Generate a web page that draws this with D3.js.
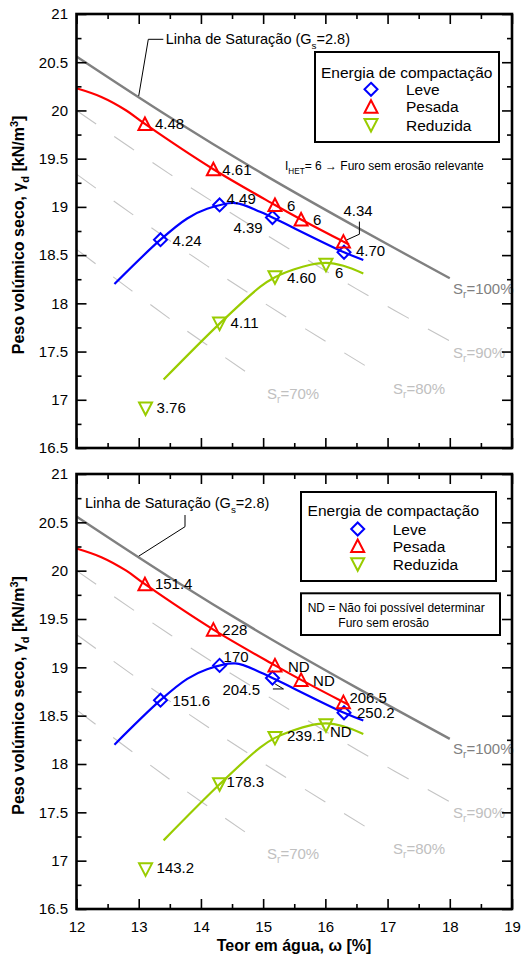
<!DOCTYPE html>
<html>
<head>
<meta charset="utf-8">
<script src="https://cdn.jsdelivr.net/npm/d3@7"></script>
<style>
  body { margin: 0; background: #fff; }
  svg { display: block; font-family: "Liberation Sans", Arial, sans-serif; }
</style>
</head>
<body>
<svg id="chart" width="522" height="955"></svg>
<script>
// ---- data ----
const leveW = [13.35, 14.30, 15.15, 16.30];
const leveG = [18.66, 19.02, 18.89, 18.53];
const pesadaW = [13.10, 14.20, 15.19, 15.61, 16.29];
const pesadaG = [19.86, 19.39, 19.02, 18.87, 18.64];
const reduzW = [13.11, 14.30, 15.19, 16.01];
const reduzG = [16.91, 17.79, 18.27, 18.40];

// points
const leveCurve = [[12.61, 18.20], [13.35, 18.66], [13.78, 18.88], [14.10, 18.98], [14.55, 19.04], [14.95, 18.95], [15.15, 18.89], [16.30, 18.53], [16.61, 18.45]];
const pesadaCurve = [[12.0, 20.23], [12.4, 20.14], [12.8, 20.0], [13.10, 19.86], [14.20, 19.39], [15.19, 19.02], [15.61, 18.87], [16.29, 18.64], [16.38, 18.61]];
const reduzCurve = [[13.40, 17.21], [14.30, 17.79], [14.95, 18.17], [15.19, 18.27], [15.49, 18.35], [15.76, 18.40], [16.01, 18.42], [16.29, 18.39], [16.61, 18.31]];

// saturation lines (Gs = 2.8)
const sr100 = [[12, 20.56], [13.5, 19.93], [15, 19.34], [16.5, 18.79], [18, 18.26]];
const sr90 = [[12, 20.00], [13.5, 19.34], [15, 18.73], [16.5, 18.15], [18, 17.61]];
const sr80 = [[12, 19.34], [13.5, 18.65], [15, 18.01], [16.65, 17.35]];
const sr70 = [[12, 18.56], [13.5, 17.84], [14.95, 17.19]];

// label texts
const iLeve = ["4.24", "4.49", "4.39", "4.70"];
const iPesada = ["4.48", "4.61", "6", "6", "4.34"];
const iReduz = ["3.76", "4.11", "4.60", "6"];
const tLeve = ["151.6", "170", "204.5", "250.2"];
const tPesada = ["151.4", "228", "ND", "ND", "206.5"];
const tReduz = ["143.2", "178.3", "239.1", "ND"];

const xTicks = [12, 13, 14, 15, 16, 17, 18, 19];
const yTicks = [16.5, 17, 17.5, 18, 18.5, 19, 19.5, 20, 20.5, 21];

const serieNames = ["Leve", "Pesada", "Reduzida"];
const colors = { leve: "#0000ff", pesada: "#ff0000", reduz: "#99cc00" };

// ---- layout ----
const svg = d3.select("#chart");
const left = 76.5, right = 512;
const x = d3.scaleLinear().domain([12, 19]).range([left, right]);

const shapes = {
  leve: "M0,-6.5L6.5,0L0,6.5L-6.5,0Z",
  pesada: "M0,-6.5L6.5,6L-6.5,6Z",
  reduz: "M-6.5,-6L6.5,-6L0,6.5Z"
};

function rich(sel, parts, fs) {
  let shift = 0;
  parts.forEach(([t, k]) => {
    const target = k === "sub" ? fs * 0.3 : k === "sup" ? -fs * 0.4 : 0;
    sel.append("tspan")
      .attr("dy", target - shift)
      .style("font-size", k ? (fs * 0.68) + "px" : null)
      .text(t);
    shift = target;
  });
  return sel;
}

const panels = [
  {
    top: 14, bottom: 448, xLabels: false,
    labels: { leve: iLeve, pesada: iPesada, reduz: iReduz },
    off: {
      leve: [[12, 1], [7, -6], [-39, 10], [12, -2]],
      pesada: [[10, 0], [9, 0], [12, 1], [12, 0], [0, -31]],
      reduz: [[11, -1], [11, -1], [12, 0], [9, 8]]
    },
    leader: { serie: "pesada", i: 4, pts: [[16, -20], [16, -7.4], [3.4, -1.7]] },
    satText: [165.7, 25.3], satLeader: [[163.3, 25.3], [148.3, 25.3]],
    legend: { x0: 315, y0: 38, x1: 499, y1: 128, cx: 406.7, mx: 371, tx: 406, rows: [58, 75.3, 92.7, 111] },
    note: "ihet"
  },
  {
    top: 474, bottom: 909, xLabels: true,
    labels: { leve: tLeve, pesada: tPesada, reduz: tReduz },
    off: {
      leve: [[12, 0], [4, -9], [-50, 12], [13, 0]],
      pesada: [[10, -1], [9, 0], [13, 1], [12, 1], [6, -5]],
      reduz: [[11, -2], [7, -3], [12, -2], [4, 6]]
    },
    leader: { serie: "leve", i: 2, pts: [[0.4, 11], [11, 11], [2.7, 6]] },
    satText: [85, 29.3], satLeader: [[185, 41], [185, 52.7]],
    legend: { x0: 301, y0: 18, x1: 496, y1: 107, cx: 393.3, mx: 357.7, tx: 392.7, rows: [36.7, 55, 72, 90.3] },
    note: "nd"
  }
];

panels.forEach(p => {
  const y = d3.scaleLinear().domain([16.5, 21]).range([p.bottom, p.top]);
  const g = svg.append("g");
  const line = d3.line().x(d => x(d[0])).y(d => y(d[1])).curve(d3.curveCatmullRom.alpha(0.5));

  // partial saturation lines
  [sr90, sr80, sr70].forEach(s => {
    g.append("path").attr("d", line(s))
      .attr("fill", "none").attr("stroke", "#c4c4c4").attr("stroke-width", 1.1)
      .attr("stroke-dasharray", "24,22");
  });
  g.append("path").attr("d", line(sr100))
    .attr("fill", "none").attr("stroke", "#808080").attr("stroke-width", 2.4);

  // Sr labels
  const srLab = [["100%", 453, 274, "#808080"], ["90%", 453, 338, "#c0c0c0"], ["80%", 393, 374, "#c0c0c0"], ["70%", 267, 379, "#c0c0c0"]];
  srLab.forEach(([t, lx, ly, c]) => {
    const tx = g.append("text").attr("x", lx).attr("y", p.top + ly + 5.5)
      .attr("fill", c).style("font-size", "15px");
    rich(tx, [["S"], ["r", "sub"], ["=" + t]], 15);
  });

  // saturation label + leader
  const st = g.append("text").attr("x", p.satText[0]).attr("y", p.top + p.satText[1] + 5)
    .style("font-size", "14.5px").attr("fill", "#000");
  rich(st, [["Linha de Saturação (G"], ["s", "sub"], ["=2.8)"]], 14.5);
  const lp = p.satLeader.map(d => [d[0], p.top + d[1]]);
  lp.push([x(13), y(20.15)]);
  g.append("path").attr("d", d3.line()(lp)).attr("fill", "none").attr("stroke", "#000").attr("stroke-width", 1);

  // fitted curves
  [["leve", leveCurve], ["pesada", pesadaCurve], ["reduz", reduzCurve]].forEach(([k, c]) => {
    g.append("path").attr("d", line(c)).attr("fill", "none")
      .attr("stroke", colors[k]).attr("stroke-width", 2.2);
  });

  // markers + labels
  const series = { leve: [leveW, leveG], pesada: [pesadaW, pesadaG], reduz: [reduzW, reduzG] };
  Object.keys(series).forEach(k => {
    const [ws, gs] = series[k];
    const pts = ws.map((w, i) => ({ w, g: gs[i], i }));
    g.selectAll(null).data(pts).enter().append("path")
      .attr("d", shapes[k])
      .attr("transform", d => `translate(${x(d.w)},${y(d.g)})`)
      .attr("fill", "none").attr("stroke", colors[k]).attr("stroke-width", 2);
    g.selectAll(null).data(pts).enter().append("text")
      .attr("x", d => x(d.w) + p.off[k][d.i][0])
      .attr("y", d => y(d.g) + p.off[k][d.i][1])
      .attr("dy", "0.36em")
      .style("font-size", "15px").attr("fill", "#000")
      .text(d => p.labels[k][d.i]);
  });

  // annotation leader
  {
    const L = p.leader, [ws, gs] = series[L.serie];
    const mx = x(ws[L.i]), my = y(gs[L.i]);
    g.append("path").attr("d", d3.line()(L.pts.map(d => [mx + d[0], my + d[1]])))
      .attr("fill", "none").attr("stroke", "#000").attr("stroke-width", 1);
  }

  // frame + ticks
  g.append("rect").attr("x", left).attr("y", p.top)
    .attr("width", right - left).attr("height", p.bottom - p.top)
    .attr("fill", "none").attr("stroke", "#000").attr("stroke-width", 2.6);

  const xMinor = d3.range(12.5, 19, 1);
  const yMinor = d3.range(16.75, 21, 0.5);
  const fmt = d3.format("");

  const ax = [
    d3.axisBottom(x).tickValues(xTicks).tickSize(-10).tickPadding(12).tickFormat(p.xLabels ? fmt : ""),
    d3.axisBottom(x).tickValues(xMinor).tickSize(-5).tickFormat("")
  ];
  ax.forEach(a => g.append("g").attr("transform", `translate(0,${p.bottom})`).call(a));
  [d3.axisTop(x).tickValues(xTicks).tickSize(-10).tickFormat(""),
   d3.axisTop(x).tickValues(xMinor).tickSize(-5).tickFormat("")]
    .forEach(a => g.append("g").attr("transform", `translate(0,${p.top})`).call(a));
  [d3.axisLeft(y).tickValues(yTicks).tickSize(-10).tickPadding(8.5).tickFormat(fmt),
   d3.axisLeft(y).tickValues(yMinor).tickSize(-5).tickFormat("")]
    .forEach(a => g.append("g").attr("transform", `translate(${left},0)`).call(a));
  [d3.axisRight(y).tickValues(yTicks).tickSize(-10).tickFormat(""),
   d3.axisRight(y).tickValues(yMinor).tickSize(-5).tickFormat("")]
    .forEach(a => g.append("g").attr("transform", `translate(${right},0)`).call(a));

  g.selectAll(".domain").remove();
  g.selectAll(".tick line").attr("stroke", "#000").attr("stroke-width", 1.6);
  g.selectAll(".tick text").style("font-size", "15px").attr("fill", "#000")
    .style("font-family", "'Liberation Sans', Arial, sans-serif");

  // y title
  const yt = g.append("text")
    .attr("transform", `translate(24,${(p.top + p.bottom) / 2 + 4}) rotate(-90)`)
    .attr("text-anchor", "middle").style("font-size", "16px").style("font-weight", "bold");
  rich(yt, [["Peso volúmico seco, γ"], ["d", "sub"], [" [kN/m"], ["3", "sup"], ["]"]], 16);

  // legend
  const lg = p.legend;
  g.append("rect").attr("x", lg.x0).attr("y", p.top + lg.y0)
    .attr("width", lg.x1 - lg.x0).attr("height", lg.y1 - lg.y0)
    .attr("fill", "#fff").attr("stroke", "#000").attr("stroke-width", 2);
  g.append("text").attr("x", lg.cx).attr("y", p.top + lg.rows[0]).attr("dy", "0.36em")
    .attr("text-anchor", "middle").style("font-size", "15.5px").text("Energia de compactação");
  ["leve", "pesada", "reduz"].forEach((k, i) => {
    const ry = p.top + lg.rows[i + 1];
    g.append("path").attr("d", shapes[k]).attr("transform", `translate(${lg.mx},${ry})`)
      .attr("fill", "none").attr("stroke", colors[k]).attr("stroke-width", 2);
    g.append("text").attr("x", lg.tx).attr("y", ry).attr("dy", "0.36em")
      .style("font-size", "15.5px").text(serieNames[i]);
  });

  // notes
  if (p.note === "ihet") {
    const nt = g.append("text").attr("x", 285).attr("y", p.top + 151.7 + 4.5).style("font-size", "12px");
    rich(nt, [["I"], ["HET", "sub"], ["= 6 → Furo sem erosão relevante"]], 12);
  } else {
    g.append("rect").attr("x", 301).attr("y", p.top + 119.3).attr("width", 199).attr("height", 41.7)
      .attr("fill", "#fff").attr("stroke", "#000").attr("stroke-width", 2);
    g.append("text").attr("x", 307.7).attr("y", p.top + 133.7).attr("dy", "0.36em")
      .style("font-size", "12px").text("ND = Não foi possível determinar");
    g.append("text").attr("x", 338.3).attr("y", p.top + 148.3).attr("dy", "0.36em")
      .style("font-size", "12px").text("Furo sem erosão");
  }
});

// x title
svg.append("text").attr("x", 294).attr("y", 950.5).attr("text-anchor", "middle")
  .style("font-size", "16px").style("font-weight", "bold").text("Teor em água, ω [%]");
</script>
</body>
</html>
